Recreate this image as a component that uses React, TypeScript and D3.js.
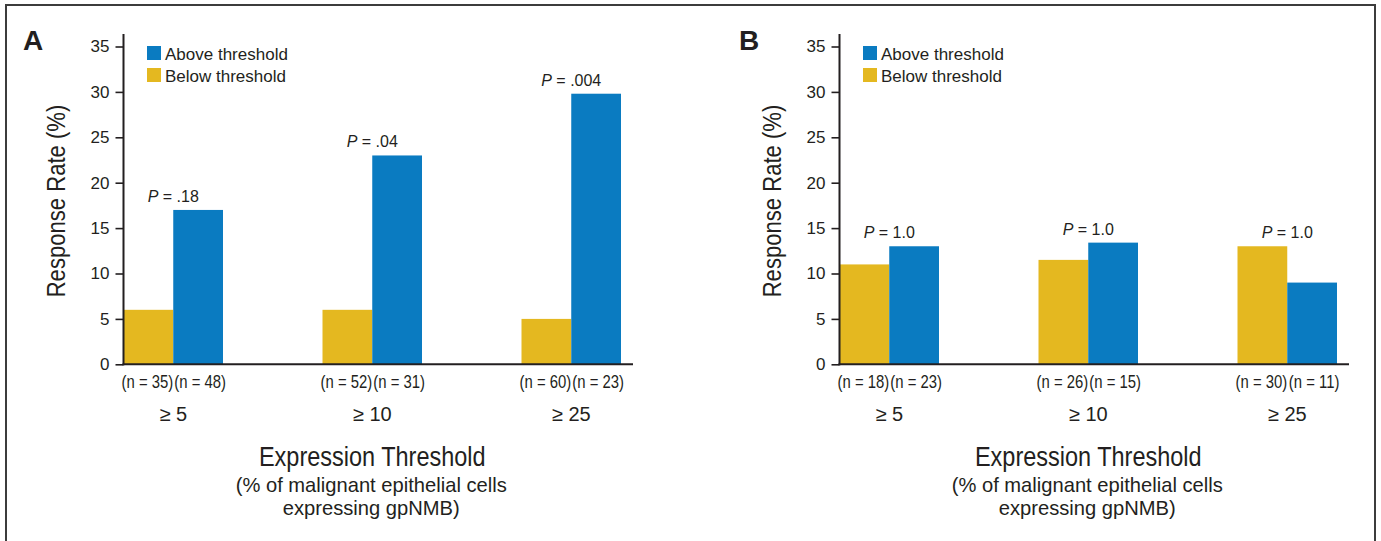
import React, { useEffect, useRef } from "react";
import * as d3 from "d3";

// categories and series
const thresholds = ["≥ 5", "≥ 10", "≥ 25"];
const seriesKeys = ["below", "above"];
const legendLabels = ["Above threshold", "Below threshold"];
const yTicks = [0, 5, 10, 15, 20, 25, 30, 35];

// panel A values (response rate %)
const aBelow = [6, 6, 5];
const aAbove = [17, 23, 29.8];
const aNBelow = [35, 52, 60];
const aNAbove = [48, 31, 23];
const aPValues = [".18", ".04", ".004"];

// panel B values (response rate %)
const bBelow = [11, 11.5, 13];
const bAbove = [13, 13.4, 9];
const bNBelow = [18, 26, 30];
const bNAbove = [23, 15, 11];
const bPValues = ["1.0", "1.0", "1.0"];

const panels = [
  { letter: "A", below: aBelow, above: aAbove, nBelow: aNBelow, nAbove: aNAbove, p: aPValues },
  { letter: "B", below: bBelow, above: bAbove, nBelow: bNBelow, nAbove: bNAbove, p: bPValues },
];

const App = () => {
  const svgRef = useRef(null);

  useEffect(() => {
    const width = 1381;
    const height = 541;
    const panelX = [123.5, 839.5];
    const font = "'Liberation Sans', Arial, Helvetica, sans-serif";
    const ink = "#231f20";
    const colors = { below: "#e4b820", above: "#0a7bc1" };

    const svg = d3.select(svgRef.current);
    svg.selectAll("*").remove();
    svg.attr("width", width).attr("height", height).style("font-family", font);

    // outer frame
    svg
      .append("rect")
      .attr("x", 6)
      .attr("y", 5)
      .attr("width", 1369)
      .attr("height", 600)
      .attr("fill", "none")
      .attr("stroke", "#3c3c3c")
      .attr("stroke-width", 2);

    const y = d3.scaleLinear().domain([0, 35]).range([364.3, 46.5]);

    panels.forEach((panel, pi) => {
      const g = svg.append("g").attr("transform", `translate(${panelX[pi]},0)`);

      const x0 = d3
        .scaleBand()
        .domain(thresholds)
        .range([0, 497.5])
        .paddingInner(0.5)
        .paddingOuter(0);
      const x1 = d3.scaleBand().domain(seriesKeys).range([0, x0.bandwidth()]);

      // panel letter
      g.append("text")
        .attr("x", -100.5)
        .attr("y", 49.5)
        .attr("font-size", 28)
        .attr("font-weight", "bold")
        .attr("fill", ink)
        .text(panel.letter);

      // bars
      thresholds.forEach((t, i) => {
        const vals = { below: panel.below[i], above: panel.above[i] };
        seriesKeys.forEach((k) => {
          g.append("rect")
            .attr("x", x0(t) + x1(k))
            .attr("y", y(vals[k]))
            .attr("width", x1.bandwidth())
            .attr("height", y(0) - y(vals[k]))
            .attr("fill", colors[k]);
        });
      });

      // y axis
      const yAxis = d3.axisLeft(y).tickValues(yTicks).tickSize(8).tickPadding(6);
      const ya = g.append("g").call(yAxis);
      ya.select(".domain").remove();
      ya.selectAll(".tick line").attr("stroke", ink).attr("stroke-width", 1.6);
      ya.selectAll(".tick text")
        .attr("fill", ink)
        .attr("font-size", 17)
        .style("font-family", font);

      g.append("line")
        .attr("x1", 0)
        .attr("x2", 0)
        .attr("y1", 34)
        .attr("y2", 365.3)
        .attr("stroke", ink)
        .attr("stroke-width", 2);

      // x axis line
      g.append("line")
        .attr("x1", -1)
        .attr("x2", 509.5)
        .attr("y1", 364.3)
        .attr("y2", 364.3)
        .attr("stroke", ink)
        .attr("stroke-width", 2);

      // P values over each group
      thresholds.forEach((t, i) => {
        const top = Math.max(panel.below[i], panel.above[i]);
        const txt = g
          .append("text")
          .attr("x", x0(t) + x0.bandwidth() / 2)
          .attr("y", y(top) - 8)
          .attr("text-anchor", "middle")
          .attr("font-size", 16)
          .attr("fill", ink);
        txt.append("tspan").attr("font-style", "italic").text("P");
        txt.append("tspan").text(` = ${panel.p[i]}`);
      });

      // n labels under each bar
      const nShift = { below: -1, above: 2 };
      thresholds.forEach((t, i) => {
        const ns = { below: panel.nBelow[i], above: panel.nAbove[i] };
        seriesKeys.forEach((k) => {
          g.append("text")
            .attr(
              "transform",
              `translate(${x0(t) + x1(k) + x1.bandwidth() / 2 + nShift[k]},388) scale(0.85,1)`
            )
            .attr("text-anchor", "middle")
            .attr("font-size", 17.5)
            .attr("fill", ink)
            .text(`(n = ${ns[k]})`);
        });
      });

      // threshold category labels
      thresholds.forEach((t) => {
        g.append("text")
          .attr("x", x0(t) + x0.bandwidth() / 2)
          .attr("y", 421)
          .attr("text-anchor", "middle")
          .attr("font-size", 20)
          .attr("fill", ink)
          .text(t);
      });

      // x axis title
      const cx = 248.75;
      g.append("text")
        .attr("transform", `translate(${cx},466) scale(0.87,1)`)
        .attr("text-anchor", "middle")
        .attr("font-size", 27)
        .attr("fill", ink)
        .text("Expression Threshold");
      g.append("text")
        .attr("transform", `translate(${cx - 1},492) scale(0.96,1)`)
        .attr("text-anchor", "middle")
        .attr("font-size", 21)
        .attr("fill", ink)
        .text("(% of malignant epithelial cells");
      g.append("text")
        .attr("transform", `translate(${cx - 1},515) scale(0.96,1)`)
        .attr("text-anchor", "middle")
        .attr("font-size", 21)
        .attr("fill", ink)
        .text("expressing gpNMB)");

      // y axis title
      g.append("text")
        .attr("transform", "translate(-58.2,201) rotate(-90) scale(0.85,1)")
        .attr("text-anchor", "middle")
        .attr("font-size", 26)
        .attr("fill", ink)
        .text("Response Rate (%)");

      // legend
      const legendKeys = ["above", "below"];
      legendKeys.forEach((k, i) => {
        g.append("rect")
          .attr("x", 23.5)
          .attr("y", 46 + i * 22)
          .attr("width", 14)
          .attr("height", 14)
          .attr("fill", colors[k]);
        g.append("text")
          .attr("x", 41.5)
          .attr("y", 59.5 + i * 22)
          .attr("font-size", 17)
          .attr("fill", ink)
          .text(legendLabels[i]);
      });
    });
  }, []);

  return (
    <svg
      ref={svgRef}
      style={{ position: "absolute", left: 0, top: 0, background: "#fff" }}
    ></svg>
  );
};

export default App;
